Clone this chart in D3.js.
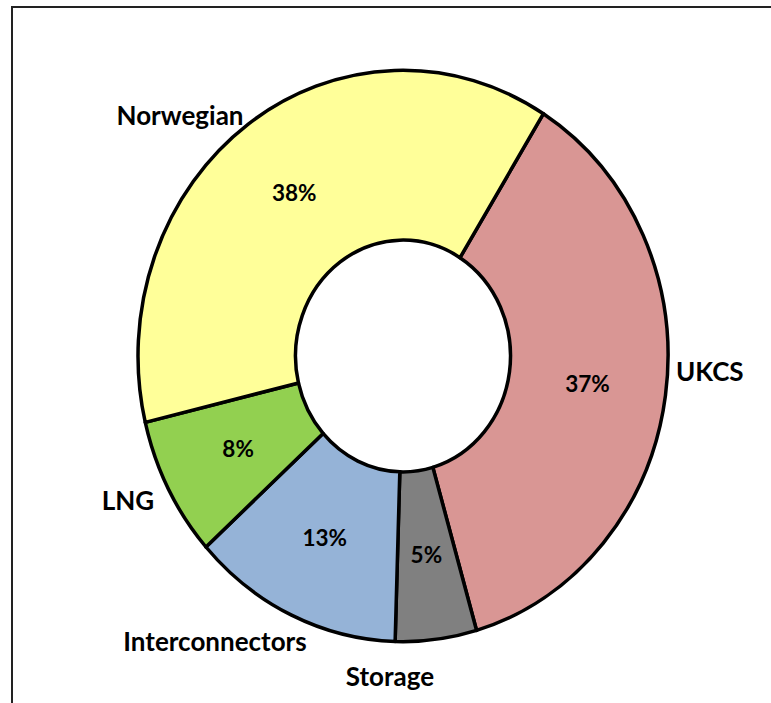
<!DOCTYPE html>
<html>
<head>
<meta charset="utf-8">
<script src="https://cdn.jsdelivr.net/npm/d3@7"></script>
<style>
  html, body { margin: 0; padding: 0; background: #fff; }
  svg { display: block; }
  text { font-family: Lato, "Open Sans", sans-serif; font-weight: 700; fill: #000; }
</style>
</head>
<body>
<svg id="chart" width="771" height="703"></svg>
<script>
// ---- data ----
const categories = ["UKCS", "Storage", "Interconnectors", "LNG", "Norwegian"];
const shares = [37, 5, 13, 8, 38];
const percentLabels = ["37%", "5%", "13%", "8%", "38%"];
const colors = ["#D99694", "#808080", "#95B3D7", "#92D050", "#FFFF99"];

// ---- layout ----
const W = 771, H = 703;
const cx = 403, cy = 356;
const outerR = 265, innerR = 107.5;
const yScale = 1.078;   // the original plot is slightly taller than wide
const startDeg = 32;

// outside label placement (relative to the pie centre, screen px) and anchor
const outsideLabel = {
  "UKCS":            { dx: 273,  dy: 16,  anchor: "start" },
  "Storage":         { dx: -13,  dy: 321, anchor: "middle" },
  "Interconnectors": { dx: -188, dy: 286, anchor: "middle" },
  "LNG":             { dx: -275, dy: 145, anchor: "middle" },
  "Norwegian":       { dx: -223, dy: -240, anchor: "middle" }
};

const svg = d3.select("#chart");

// frame
svg.append("rect")
  .attr("x", 12).attr("y", 7)
  .attr("width", W + 20).attr("height", H + 20)
  .attr("fill", "none")
  .attr("stroke", "#222")
  .attr("stroke-width", 2);

const data = categories.map((c, i) => ({ name: c, value: shares[i], label: percentLabels[i], color: colors[i] }));

const pie = d3.pie()
  .value(d => d.value)
  .sort(null)
  .startAngle(startDeg * Math.PI / 180)
  .endAngle(startDeg * Math.PI / 180 + 2 * Math.PI);

const arcs = pie(data);

const arc = d3.arc().innerRadius(innerR).outerRadius(outerR);

const g = svg.append("g")
  .attr("transform", `translate(${cx},${cy}) scale(1,${yScale})`);

g.selectAll("path.slice")
  .data(arcs)
  .join("path")
  .attr("class", "slice")
  .attr("d", arc)
  .attr("fill", d => d.data.color)
  .attr("stroke", "#000")
  .attr("stroke-width", 3.5)
  .attr("stroke-linejoin", "round")
  .attr("vector-effect", "non-scaling-stroke");

// percentage labels at centroids
const labels = svg.append("g");
labels.selectAll("text.pct")
  .data(arcs)
  .join("text")
  .attr("class", "pct")
  .attr("x", d => cx + arc.centroid(d)[0])
  .attr("y", d => cy + arc.centroid(d)[1] * yScale)
  .attr("dy", "0.36em")
  .attr("text-anchor", "middle")
  .attr("font-size", 22.5)
  .text(d => d.data.label);

// category labels outside
labels.selectAll("text.cat")
  .data(arcs)
  .join("text")
  .attr("class", "cat")
  .attr("x", d => cx + outsideLabel[d.data.name].dx)
  .attr("y", d => cy + outsideLabel[d.data.name].dy)
  .attr("dy", "0.36em")
  .attr("text-anchor", d => outsideLabel[d.data.name].anchor)
  .attr("font-size", 26)
  .text(d => d.data.name);
</script>
</body>
</html>
